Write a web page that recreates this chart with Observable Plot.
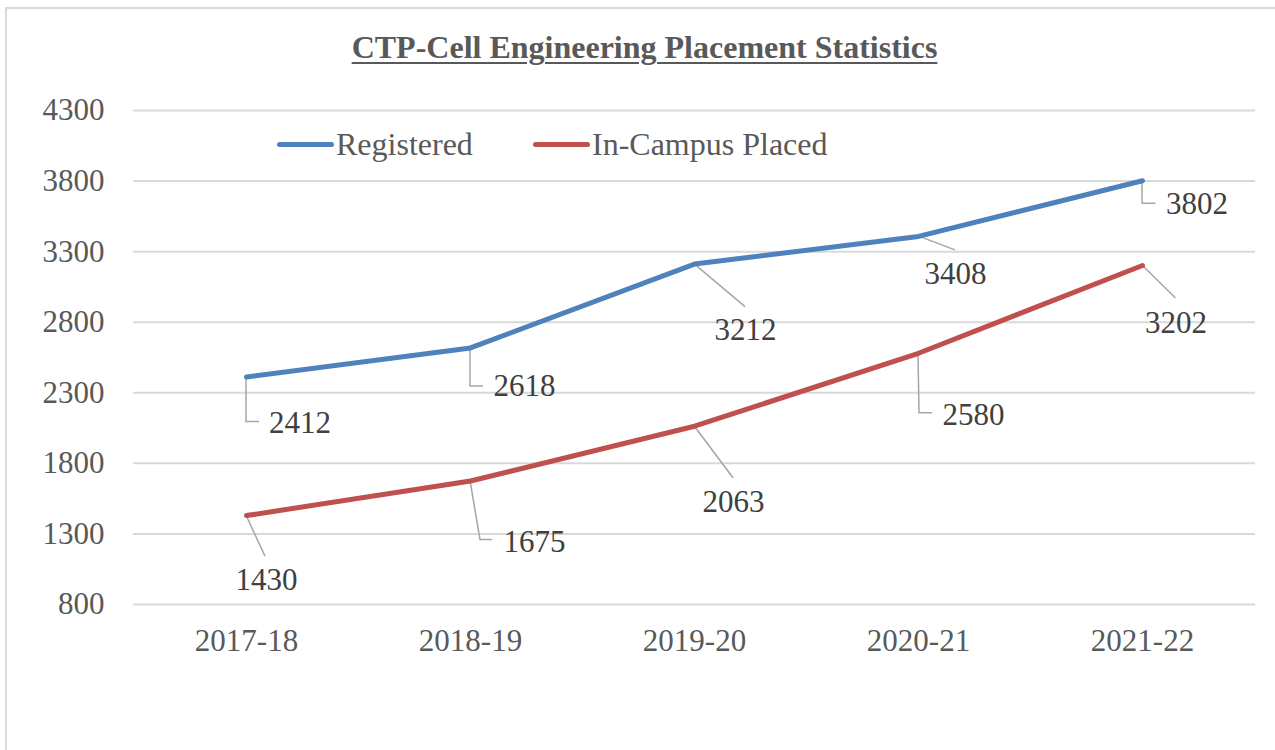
<!DOCTYPE html>
<html>
<head>
<meta charset="utf-8">
<script src="https://cdn.jsdelivr.net/npm/d3@7"></script>
<script src="https://cdn.jsdelivr.net/npm/@observablehq/plot@0.6"></script>
<style>
  html, body { margin: 0; padding: 0; background: #fff; overflow: hidden; }
  #wrap { position: relative; width: 1275px; height: 750px; overflow: hidden; font-family: "Liberation Serif", "Times New Roman", serif; }
  #frame { position: absolute; left: 5px; top: 7px; width: 1300px; height: 800px; border-left: 2px solid #D9D9D9; border-top: 2px solid #D9D9D9; }
  #title { position: absolute; left: 0; width: 1289px; top: 31px; text-align: center; font-size: 32px; line-height: 32px; font-weight: bold; color: #595959; }
  #title span { text-decoration: underline; text-decoration-thickness: 2px; text-underline-offset: 4px; }
  .leg { position: absolute; top: 128px; font-size: 32px; line-height: 32px; color: #595959; white-space: nowrap; }
  .sw { position: absolute; top: 142px; height: 5px; border-radius: 3px; }
  #chart { position: absolute; left: 0; top: 0; }
</style>
</head>
<body>
<div id="wrap">
  <div id="frame"></div>
  <div id="chart"></div>
  <div id="title"><span>CTP-Cell Engineering Placement Statistics</span></div>
  <div class="sw" style="left:277px;width:57px;background:#4F81BD"></div>
  <div class="leg" style="left:336px">Registered</div>
  <div class="sw" style="left:533px;width:57px;background:#C0504D"></div>
  <div class="leg" style="left:592px">In-Campus Placed</div>
</div>
<script>
// ---- data ----
const years = ["2017-18", "2018-19", "2019-20", "2020-21", "2021-22"];
const registered = [2412, 2618, 3212, 3408, 3802];
const placed = [1430, 1675, 2063, 2580, 3202];
const yTicks = [800, 1300, 1800, 2300, 2800, 3300, 3800, 4300];
const seriesNames = ["Registered", "In-Campus Placed"];

// ---- label layout (pixel offsets from the point, style only) ----
const regLabelOffset = [[53.5, 46], [54, 38.5], [51, 66], [37, 37.5], [54.5, 23]];
const regLeader = [
  [[0, 0], [0, 45], [13, 45]],
  [[0, 0], [0, 38.5], [13, 38.5]],
  [[0, 0], [51, 43]],
  [[0, 0], [37, 14]],
  [[0, 0], [0, 23], [13.5, 23]]
];
const placedLabelOffset = [[20, 64], [64, 61], [39, 76], [55, 61.5], [33.5, 58]];
const placedLeader = [
  [[0, 0], [19, 41]],
  [[0, 0], [10, 59], [22, 59]],
  [[0, 0], [39, 52]],
  [[0, 0], [1, 60], [14, 60]],
  [[0, 0], [33.5, 33]]
];
const colors = ["#4F81BD", "#C0504D"];

const regData = years.map((y, i) => ({year: y, value: registered[i], series: seriesNames[0], leader: regLeader[i], off: regLabelOffset[i]}));
const placedData = years.map((y, i) => ({year: y, value: placed[i], series: seriesNames[1], leader: placedLeader[i], off: placedLabelOffset[i]}));
const allData = regData.concat(placedData);

const labelFont = {fontSize: 31, fontFamily: "Liberation Serif", fill: "#404040", textAnchor: "middle", lineAnchor: "middle"};

const labelMarks = allData.map(d => Plot.text([d], {x: "year", y: "value", text: d => String(d.value), dx: d.off[0], dy: d.off[1], ...labelFont}));

const leaderMark = Plot.dot(allData, {
  x: "year", y: "value", r: 0,
  render(index, scales, values) {
    const g = d3.create("svg:g");
    for (const i of index) {
      const px = values.x[i], py = values.y[i];
      const pts = allData[i].leader.map(([a, b]) => [px + a, py + b]);
      g.append("path")
        .attr("d", d3.line()(pts))
        .attr("fill", "none")
        .attr("stroke", "#A6A6A6")
        .attr("stroke-width", 1.5);
    }
    return g.node();
  }
});

const chart = Plot.plot({
  width: 1275,
  height: 750,
  marginLeft: 133,
  marginRight: 20,
  marginTop: 110,
  marginBottom: 146,
  style: {fontFamily: "Liberation Serif", background: "transparent", color: "#595959"},
  x: {type: "point", domain: years, padding: 0.5, label: null},
  y: {domain: [800, 4300], label: null},
  marks: [
    Plot.gridY(yTicks, {stroke: "#D9D9D9", strokeOpacity: 1, strokeWidth: 2}),
    Plot.axisY(yTicks, {tickSize: 0, tickPadding: 29, fontSize: 31, fill: "#595959", tickFormat: d => String(d), label: null}),
    Plot.axisX({tickSize: 0, tickPadding: 24, fontSize: 31, fill: "#595959", label: null}),
    leaderMark,
    Plot.line(regData, {x: "year", y: "value", stroke: colors[0], strokeWidth: 5, strokeLinecap: "round", strokeLinejoin: "round"}),
    Plot.line(placedData, {x: "year", y: "value", stroke: colors[1], strokeWidth: 5, strokeLinecap: "round", strokeLinejoin: "round"}),
    ...labelMarks
  ]
});
document.getElementById("chart").appendChild(chart);
</script>
</body>
</html>
